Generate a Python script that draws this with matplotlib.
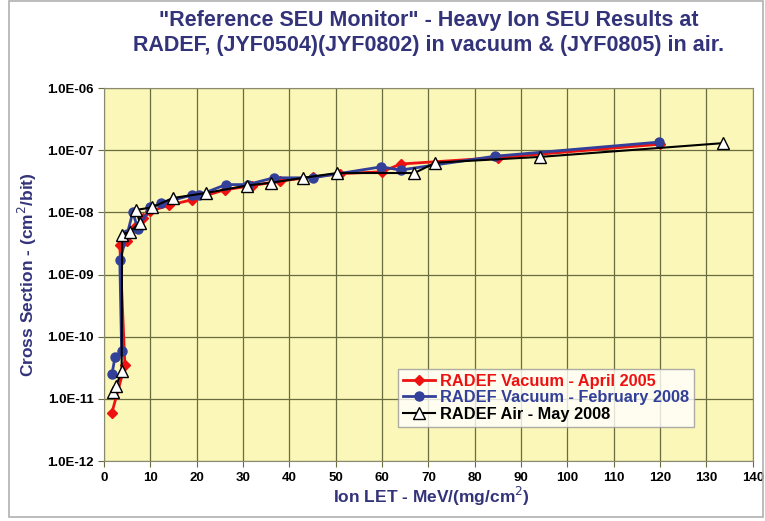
import numpy as np
import matplotlib.pyplot as plt
from matplotlib.patches import Rectangle

# RADEF Vacuum - April 2005
let_apr05 = [1.7, 4.5, 3.4, 5.0, 7.0, 8.5, 10.0, 14.0, 19.0, 26.0, 32.0, 38.0, 45.0, 51.0, 60.0, 64.0, 85.0, 120.0]
xs_apr05 = [6e-12, 3.5e-11, 3.0e-9, 3.5e-9, 6.0e-9, 8.0e-9, 1.05e-8, 1.3e-8, 1.6e-8, 2.3e-8, 2.7e-8, 3.2e-8, 3.7e-8, 4.2e-8, 4.5e-8, 6.0e-8, 7.6e-8, 1.25e-7]

# RADEF Vacuum - February 2008
let_feb08 = [1.7, 2.4, 3.8, 3.4, 5.0, 6.2, 7.3, 10.0, 12.4, 18.9, 20.5, 26.3, 31.0, 36.6, 45.0, 59.8, 64.0, 84.3, 119.7]
xs_feb08 = [2.5e-11, 4.8e-11, 5.8e-11, 1.7e-9, 4.5e-9, 1.0e-8, 5.5e-9, 1.2e-8, 1.4e-8, 1.9e-8, 1.9e-8, 2.8e-8, 2.8e-8, 3.6e-8, 3.6e-8, 5.4e-8, 4.8e-8, 8.0e-8, 1.35e-7]

# RADEF Air - May 2008
let_may08 = [2.0, 2.6, 3.8, 3.9, 5.6, 7.7, 7.0, 10.3, 14.8, 22.0, 30.8, 36.0, 43.0, 50.3, 67.0, 71.5, 94.0, 133.6]
xs_may08 = [1.3e-11, 1.6e-11, 2.8e-11, 4.4e-9, 4.9e-9, 6.8e-9, 1.1e-8, 1.2e-8, 1.7e-8, 2.05e-8, 2.7e-8, 3.0e-8, 3.6e-8, 4.3e-8, 4.3e-8, 6.3e-8, 7.8e-8, 1.3e-7]

yticks = [1e-12, 1e-11, 1e-10, 1e-9, 1e-8, 1e-7, 1e-6]
ytick_labels = ["1.0E-12", "1.0E-11", "1.0E-10", "1.0E-09", "1.0E-08", "1.0E-07", "1.0E-06"]
xticks = list(range(0, 141, 10))

navy = "#33337a"
red = "#ee1111"
blue = "#33409a"

plt.rcParams['font.family'] = ['Liberation Sans', 'DejaVu Sans']

fig = plt.figure(figsize=(7.65, 5.21), dpi=100)
fig.patches.append(Rectangle((0.012, 0.008), 0.985, 0.99, transform=fig.transFigure,
                             fill=False, edgecolor="#b0b0b0", linewidth=1.2))
ax = fig.add_axes([0.136, 0.115, 0.848, 0.716])
ax.set_facecolor("#fbf7b8")

ax.plot(let_apr05, xs_apr05, color=red, lw=2, marker='D', ms=5, mfc=red, mec=red,
        label="RADEF Vacuum - April 2005", zorder=3)
ax.plot(let_feb08, xs_feb08, color=blue, lw=2, marker='o', ms=6.5, mfc=blue, mec=blue,
        label="RADEF Vacuum - February 2008", zorder=4)
ax.plot(let_may08, xs_may08, color="black", lw=1.5, marker='^', ms=8.5, mfc="white", mec="black",
        mew=1, label="RADEF Air - May 2008", zorder=5)

ax.set_yscale('log')
ax.set_ylim(1e-12, 1e-6)
ax.set_xlim(0, 140)
ax.set_yticks(yticks)
ax.set_yticklabels(ytick_labels)
ax.minorticks_off()
ax.set_xticks(xticks)
ax.grid(True, color="#6b6b40", lw=0.9)
ax.set_axisbelow(True)
for s in ax.spines.values():
    s.set_color("#8a8a70")
ax.tick_params(labelsize=9.5, colors="black", length=4, color="#6b6b40")
for lab in ax.get_xticklabels() + ax.get_yticklabels():
    lab.set_fontweight('bold')

ax.set_xlabel("Ion LET - MeV/(mg/cm$^2$)", color=navy, fontsize=12.5, fontweight='bold')
ax.set_ylabel("Cross Section - (cm$^2$/bit)", color=navy, fontsize=12.5, fontweight='bold')
ax.xaxis.set_label_coords(0.505, -0.065)
ax.yaxis.set_label_coords(-0.10, 0.5)
fig.text(0.56, 0.937, "\"Reference SEU Monitor\" - Heavy Ion SEU Results at\nRADEF, (JYF0504)(JYF0802) in vacuum & (JYF0805) in air.",
         ha='center', va='center', color=navy, fontsize=15.5, fontweight='bold', linespacing=1.25)

leg = ax.legend(loc='lower left', bbox_to_anchor=(0.44, 0.07), fontsize=11.8, frameon=True,
                fancybox=False, edgecolor="#999999", handlelength=2.0, borderpad=0.3,
                labelspacing=0.1, handletextpad=0.3)
leg.get_frame().set_facecolor("white")
for txt, c in zip(leg.get_texts(), [red, blue, "black"]):
    txt.set_color(c)
    txt.set_fontweight('bold')

fig.savefig("out.png", dpi=100)
